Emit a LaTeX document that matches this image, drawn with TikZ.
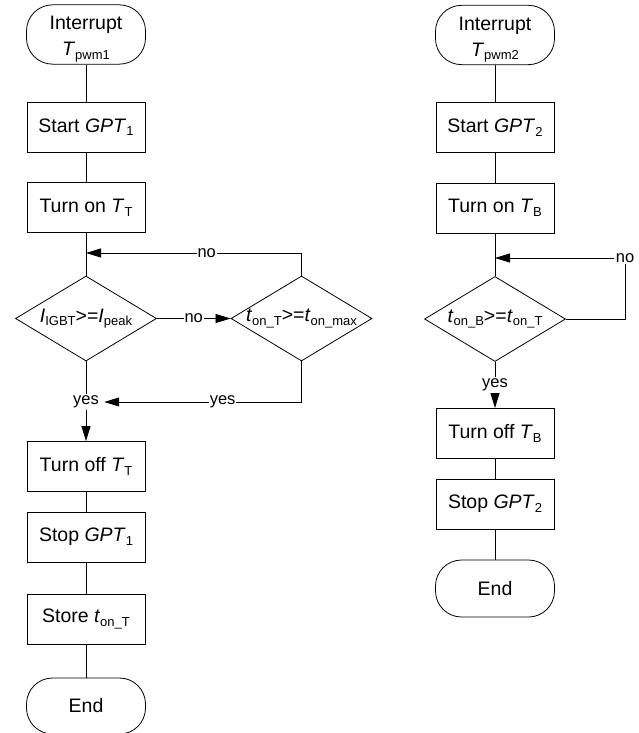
\documentclass[tikz,border=0pt]{standalone}
\usepackage{fontspec}
\setmainfont{Liberation Sans}
\usetikzlibrary{arrows.meta, shapes.geometric, positioning}
\newcommand{\lowsub}[1]{\raisebox{-0.35ex}{\fontsize{13}{13}\selectfont #1}}

\begin{document}
\begin{tikzpicture}[
  x=1pt, y=-1pt,
  every node/.style={font=\fontsize{19.5}{22}\selectfont},
  term/.style={rectangle, draw, rounded corners=26pt, align=center,
               minimum width=119pt, minimum height=57pt, inner sep=2pt},
  proc/.style={rectangle, draw, minimum width=118pt, minimum height=50pt},
  dec/.style={diamond, draw, minimum width=141pt, minimum height=85pt,
              inner sep=0pt},
  lbl/.style={font=\fontsize{16.5}{18}\selectfont, inner sep=1pt},
  arr/.style={-{Triangle[length=15pt, width=9pt]}},
  line width=0.8pt,
]
\useasboundingbox (0,0) rectangle (638,733);

% left chart
\node[term] (st1) at (86,34.5) {\rule{0pt}{23pt}Interrupt\\[4pt]\textit{T}\lowsub{pwm1}};
\node[proc] (b1) at (86,127) {Start \textit{GPT}\lowsub{1}};
\node[proc] (b2) at (86,207.5) {Turn on \textit{T}\lowsub{T}};
\coordinate (m1) at (86,253);
\node[dec, label={[name=d1t]center:\textit{I}\lowsub{IGBT}>=\textit{I}\lowsub{peak}}]
  (d1) at (86,318.5) {};
\node[dec, label={[name=d2t]center:\textit{t}\lowsub{on\_T}>=\textit{t}\lowsub{on\_max}}]
  (d2) at (301.5,318.5) {};
\node[lbl] (y1) at (86,402) {yes};
\node[proc] (b3) at (86,466.5) {Turn off \textit{T}\lowsub{T}};
\node[proc] (b4) at (86,537) {Stop \textit{GPT}\lowsub{1}};
\node[proc] (b5) at (86,619) {Store \textit{t}\lowsub{on\_T}};
\node[term, minimum height=56pt] (end1) at (86,706) {End};

\draw (st1) -- (b1);
\draw (b1) -- (b2);
\draw (b2) -- (d1);
\draw[arr] (d1) -- node[lbl, fill=white]{no} (d2);
\draw[arr] (d2.north) |- node[lbl, fill=white, pos=0.72]{no} (m1);
\draw[arr] (d2.south) |- node[lbl, fill=white, pos=0.7]{yes} ([xshift=4pt]y1.east);
\draw (d1.south) -- (y1.north);
\draw[arr] (y1.south) -- (b3.north);
\draw (b3) -- (b4);
\draw (b4) -- (b5);
\draw (b5) -- (end1);

% right chart
\node[term] (st2) at (495,35) {\rule{0pt}{23pt}Interrupt\\[4pt]\textit{T}\lowsub{pwm2}};
\node[proc] (b6) at (495,127.5) {Start \textit{GPT}\lowsub{2}};
\node[proc] (b7) at (495,208) {Turn on \textit{T}\lowsub{B}};
\coordinate (m2) at (495,258);
\node[dec, label={[name=d3t]center:\textit{t}\lowsub{on\_B}>=\textit{t}\lowsub{on\_T}}]
  (d3) at (495,319) {};
\node[lbl] (y2) at (495,385) {yes};
\node[proc] (b8) at (495,433.5) {Turn off \textit{T}\lowsub{B}};
\node[proc] (b9) at (495,504) {Stop \textit{GPT}\lowsub{2}};
\node[term] (end2) at (495,588.5) {End};
\node[lbl] (no3) at (625,258) {no};

\draw (st2) -- (b6);
\draw (b6) -- (b7);
\draw (b7) -- (d3);
\draw (d3.east) -| (no3.south);
\draw[arr] (no3.west) -- (m2);
\draw (d3.south) -- (y2.north);
\draw[arr] (y2.south) -- (b8.north);
\draw (b8) -- (b9);
\draw (b9) -- (end2);
\end{tikzpicture}
\end{document}
